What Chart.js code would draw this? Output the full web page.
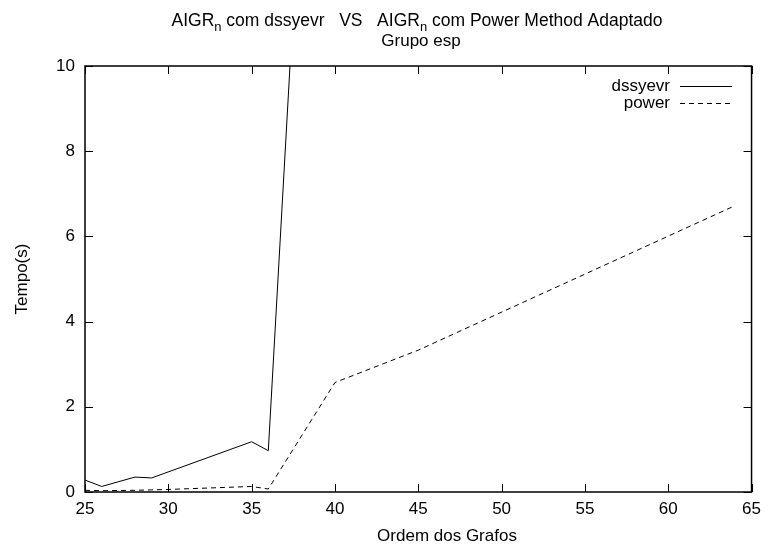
<!DOCTYPE html>
<html>
<head>
<meta charset="utf-8">
<script src="https://cdn.jsdelivr.net/npm/chart.js@4.4.0/dist/chart.umd.min.js"></script>
<style>
  html, body { margin: 0; padding: 0; background: #fff; }
  #wrap { width: 768px; height: 547px; }
</style>
</head>
<body>
<div id="wrap"><canvas id="chart" width="768" height="547"></canvas></div>
<script>
// values
const dssyevrX = [25, 26, 28, 29, 35, 36, 40];
const dssyevrY = [0.28, 0.13, 0.35, 0.33, 1.18, 0.97, 28.7];
const powerX = [25, 26, 28, 29, 30, 35, 36, 40, 45, 64];
const powerY = [0.04, 0.03, 0.04, 0.05, 0.06, 0.13, 0.07, 2.57, 3.33, 6.72];
const xTicks = [25, 30, 35, 40, 45, 50, 55, 60, 65];
const yTicks = [0, 2, 4, 6, 8, 10];

const FONT = '"Liberation Sans", Arial, sans-serif';

function toPoints(xs, ys) {
    return xs.map((x, i) => ({ x: x, y: ys[i] }));
}

// gnuplot style frame, inward ticks on all four sides, legend and titles
const gnuplotLook = {
    id: 'gnuplotLook',
    afterDraw(chart) {
        const ctx = chart.ctx;
        const a = chart.chartArea;
        const xs = chart.scales.x;
        const ys = chart.scales.y;
        const tick = 8;

        ctx.save();
        ctx.strokeStyle = '#000';
        ctx.lineWidth = 1;
        ctx.beginPath();
        xTicks.forEach(v => {
            const px = Math.round(xs.getPixelForValue(v)) + 0.5;
            ctx.moveTo(px, a.bottom); ctx.lineTo(px, a.bottom - tick);
            ctx.moveTo(px, a.top); ctx.lineTo(px, a.top + tick);
        });
        yTicks.forEach(v => {
            const py = Math.round(ys.getPixelForValue(v)) + 0.5;
            ctx.moveTo(a.left, py); ctx.lineTo(a.left + tick, py);
            ctx.moveTo(a.right, py); ctx.lineTo(a.right - tick, py);
        });
        ctx.stroke();
        ctx.lineWidth = 1.5;
        ctx.strokeRect(a.left, a.top, a.right - a.left, a.bottom - a.top);

        // legend
        ctx.font = '17px ' + FONT;
        ctx.fillStyle = '#000';
        ctx.textAlign = 'right';
        ctx.textBaseline = 'middle';
        chart.data.datasets.forEach((ds, i) => {
            const y = 86 + i * 17;
            ctx.fillText(ds.label, 670, y);
            ctx.beginPath();
            ctx.lineWidth = 1;
            ctx.setLineDash(ds.borderDash || []);
            ctx.moveTo(680, y + 0.5);
            ctx.lineTo(732, y + 0.5);
            ctx.stroke();
        });
        ctx.setLineDash([]);

        // x axis title (gnuplot puts it a bit right of centre)
        ctx.textAlign = 'center';
        ctx.fillText('Ordem dos Grafos', 447, 536);

        // title with subscripts
        const parts = [
            ['AIGR', false], ['n', true], [' com dssyevr   VS   AIGR', false],
            ['n', true], [' com Power Method Adaptado', false]
        ];
        const mainFont = '17.5px ' + FONT;
        const subFont = '13px ' + FONT;
        let total = 0;
        parts.forEach(p => {
            ctx.font = p[1] ? subFont : mainFont;
            total += ctx.measureText(p[0]).width;
        });
        let x = 417 - total / 2;
        ctx.textAlign = 'left';
        ctx.textBaseline = 'alphabetic';
        parts.forEach(p => {
            ctx.font = p[1] ? subFont : mainFont;
            ctx.fillText(p[0], x, p[1] ? 31 : 26);
            x += ctx.measureText(p[0]).width;
        });
        ctx.font = '17px ' + FONT;
        ctx.textAlign = 'center';
        ctx.fillText('Grupo esp', 421, 46);
        ctx.restore();
    }
};

new Chart(document.getElementById('chart').getContext('2d'), {
    type: 'line',
    data: {
        datasets: [
            {
                label: 'dssyevr',
                data: toPoints(dssyevrX, dssyevrY),
                borderColor: '#000',
                borderWidth: 1,
                pointRadius: 0,
                fill: false,
                tension: 0
            },
            {
                label: 'power',
                data: toPoints(powerX, powerY),
                borderColor: '#000',
                borderWidth: 1,
                borderDash: [5, 4],
                pointRadius: 0,
                fill: false,
                tension: 0
            }
        ]
    },
    options: {
        responsive: false,
        animation: false,
        layout: { padding: { top: 66, right: 15, left: 0, bottom: 0 } },
        plugins: {
            legend: { display: false },
            tooltip: { enabled: false }
        },
        scales: {
            x: {
                type: 'linear',
                min: 25,
                max: 65,
                afterBuildTicks: s => { s.ticks = xTicks.map(v => ({ value: v })); },
                afterFit: s => { s.height = 55; },
                grid: { display: false, drawTicks: false },
                border: { display: false },
                ticks: { color: '#000', padding: 7, font: { family: FONT, size: 17 }, maxRotation: 0 }
            },
            y: {
                type: 'linear',
                min: 0,
                max: 10,
                afterBuildTicks: s => { s.ticks = yTicks.map(v => ({ value: v })); },
                afterFit: s => { s.width = 85; },
                grid: { display: false, drawTicks: false },
                border: { display: false },
                ticks: { color: '#000', padding: 10, font: { family: FONT, size: 17 } },
                title: {
                    display: true,
                    text: 'Tempo(s)',
                    color: '#000',
                    font: { family: FONT, size: 17 },
                    padding: { top: 12, bottom: 0 }
                }
            }
        }
    },
    plugins: [gnuplotLook]
});
</script>
</body>
</html>
